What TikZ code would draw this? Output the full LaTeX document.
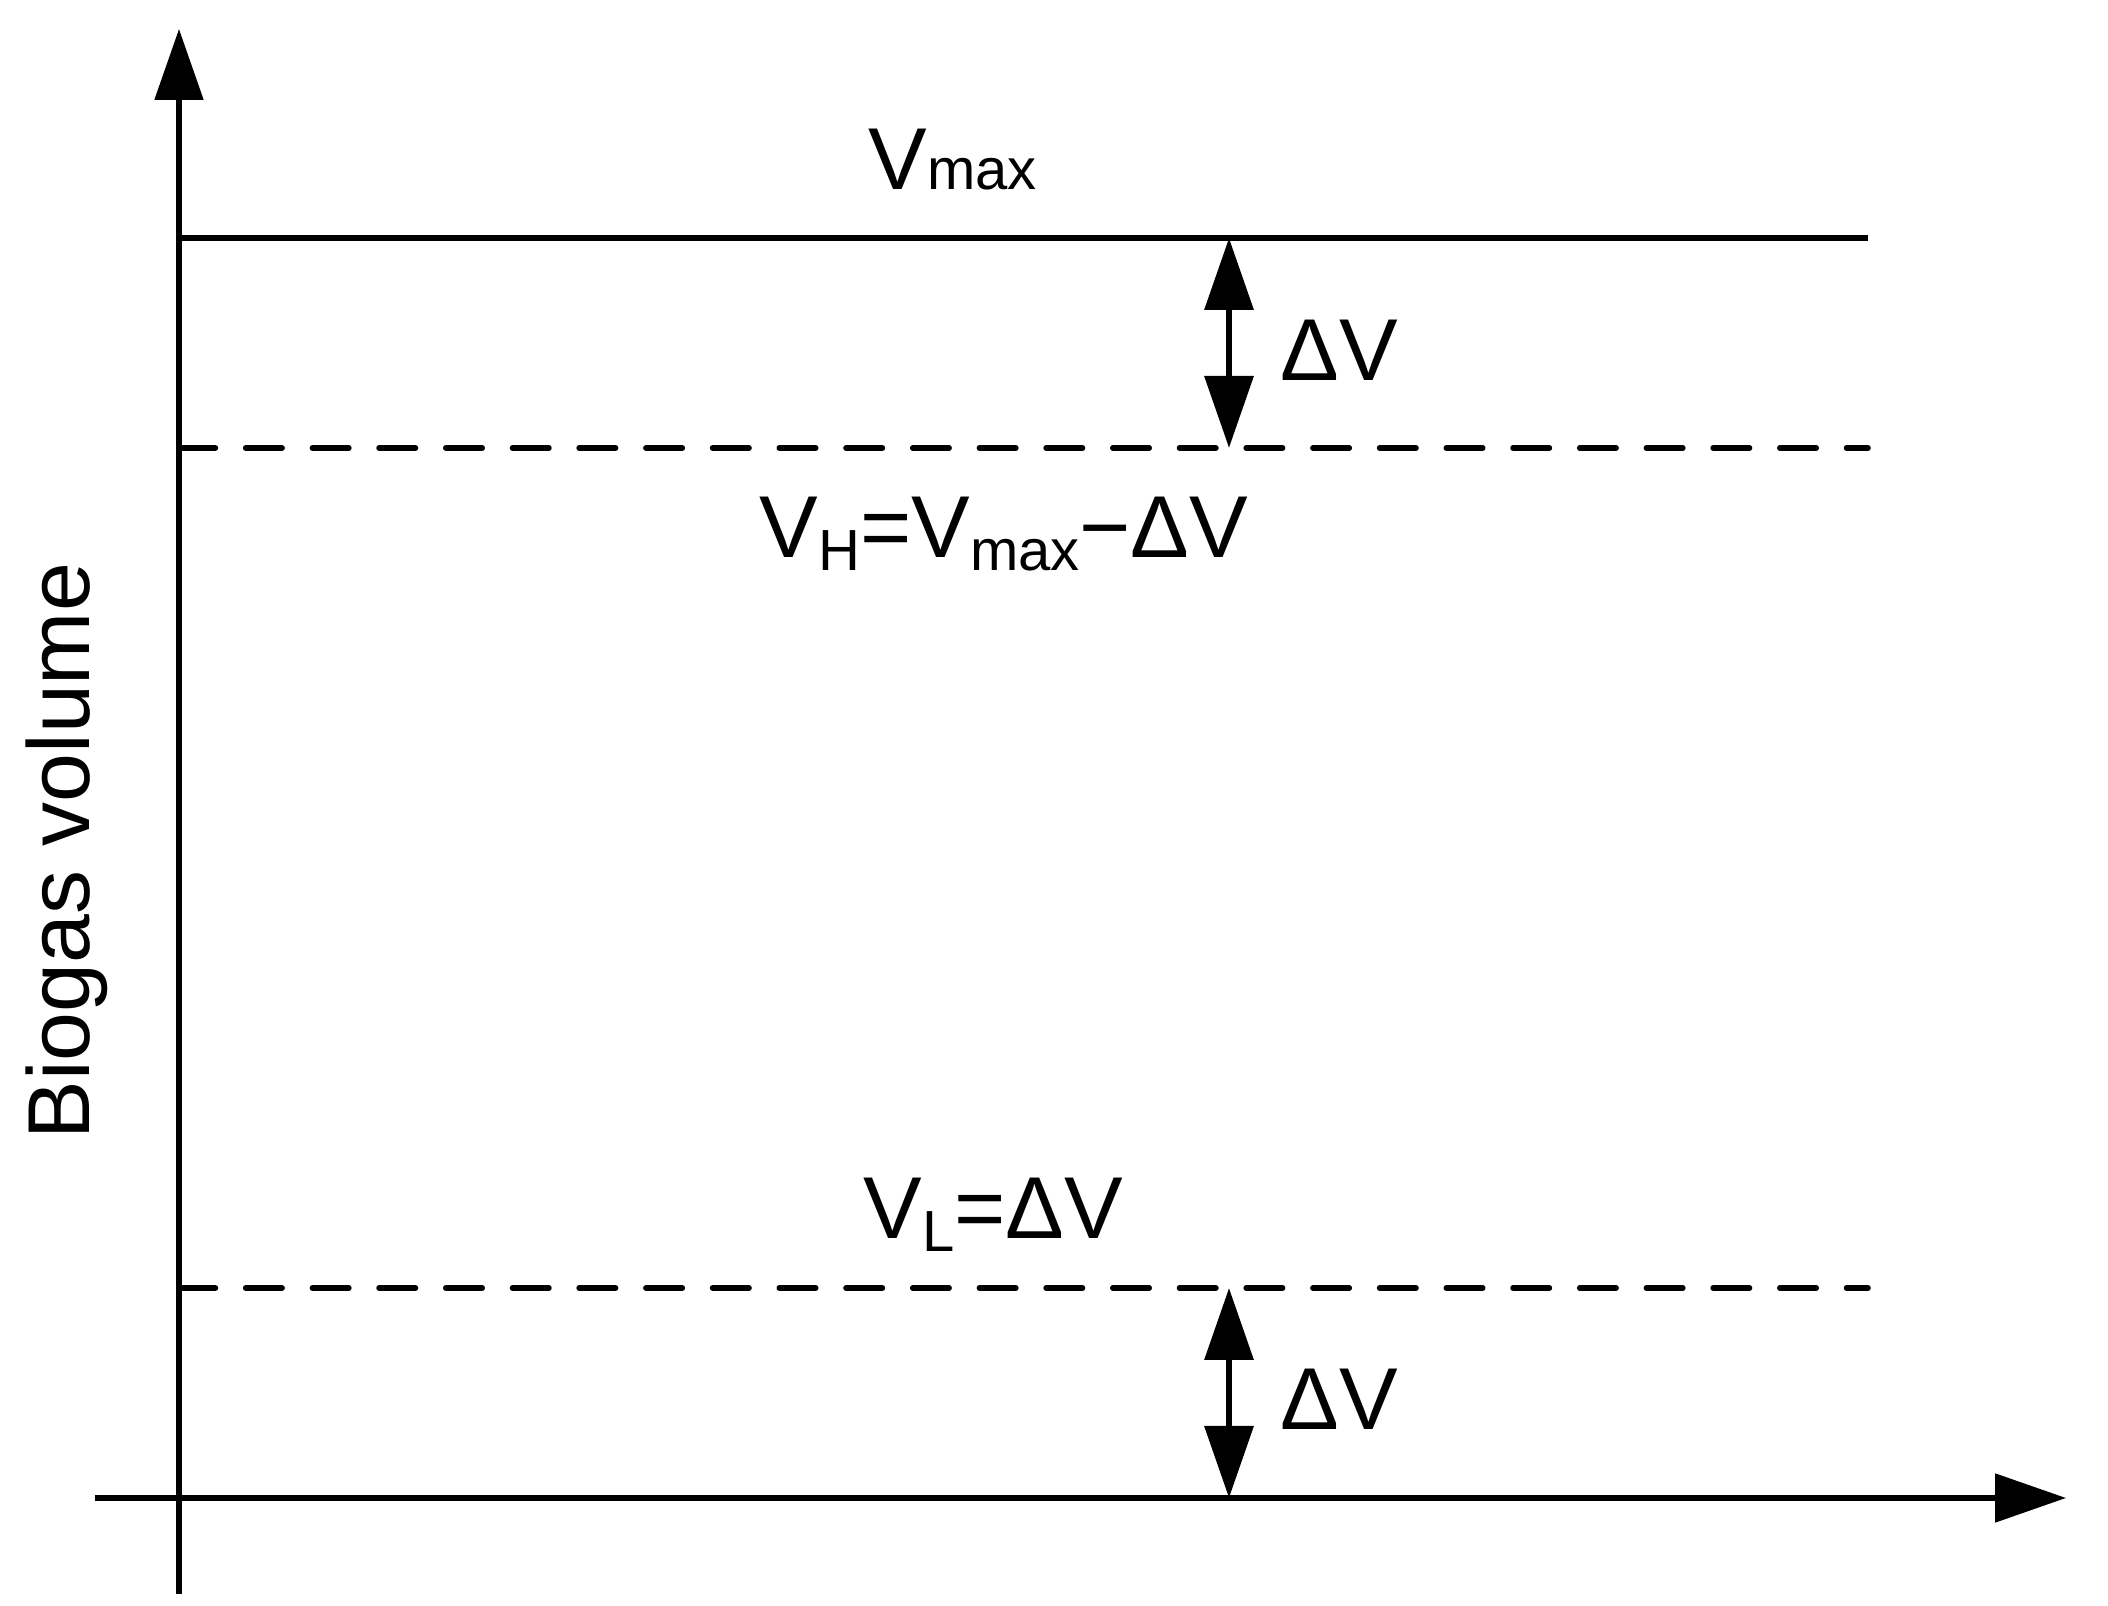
\documentclass[tikz,border=0pt]{standalone}
\usepackage{fontspec}
\setmainfont{Liberation Sans}
\usetikzlibrary{arrows.meta,positioning,calc}
\newcommand{\lowsub}[1]{\raisebox{-0.13cm}{\fontsize{16.5}{18}\selectfont #1}}
\newcommand{\flatsub}[1]{{\fontsize{16.5}{18}\selectfont #1}}

\begin{document}
\begin{tikzpicture}[
    lbl/.style={inner sep=0pt, anchor=base west, font=\fontsize{25}{30}\selectfont},
    axisline/.style={line width=1.5pt, -{Triangle[length=7.1mm,width=4.8mm]}},
    maxline/.style={line width=1.6pt},
    dashline/.style={line width=1.6pt, line cap=round, dash pattern=on 3.64mm off 3.03mm},
    gaparrow/.style={line width=1.85pt, {Triangle[length=7.2mm,width=4.8mm]}-{Triangle[length=7.2mm,width=4.8mm]}}]
    \useasboundingbox (0,0) rectangle (21.08,16.06);
    % axes
    \coordinate (ybot) at (1.79,0.12);
    \coordinate (ytop) at (1.79,15.77);
    \coordinate (xleft) at (0.95,1.08);
    \coordinate (xright) at (20.66,1.08);
    \draw[axisline] (ybot) -- (ytop);
    \draw[axisline] (xleft) -- (xright);
    % levels
    \coordinate (maxL) at (1.79,13.68);
    \coordinate (maxR) at (18.68,13.68);
    \coordinate (highL) at (1.79,11.58);
    \coordinate (highR) at (18.68,11.58);
    \coordinate (lowL) at (1.79,3.18);
    \coordinate (lowR) at (18.68,3.18);
    \draw[maxline] (maxL) -- (maxR);
    \draw[dashline] (highL) -- (highR);
    \draw[dashline] (lowL) -- (lowR);
    % gaps
    \coordinate (gapA) at (12.29,13.68);
    \coordinate (gapB) at (12.29,11.58);
    \coordinate (gapC) at (12.29,3.18);
    \coordinate (gapD) at (12.29,1.08);
    \draw[gaparrow] (gapA) -- (gapB);
    \draw[gaparrow] (gapC) -- (gapD);
    % labels
    \node[lbl] (Vmax) at (8.68,14.16) {V\flatsub{max}};
    \node[lbl] (VH) at (7.59,10.48) {V\lowsub{H}=V\lowsub{max}−ΔV};
    \node[lbl] (VL) at (8.63,3.67) {V\lowsub{L}=ΔV};
    \node[lbl] (dVtop) at (12.80,12.25) {ΔV};
    \node[lbl] (dVbot) at (12.80,1.76) {ΔV};
    \node[inner sep=0pt, anchor=base, rotate=90, font=\fontsize{25}{30}\selectfont] (ylabel) at (0.89,7.55) {Biogas volume};
\end{tikzpicture}
\end{document}
